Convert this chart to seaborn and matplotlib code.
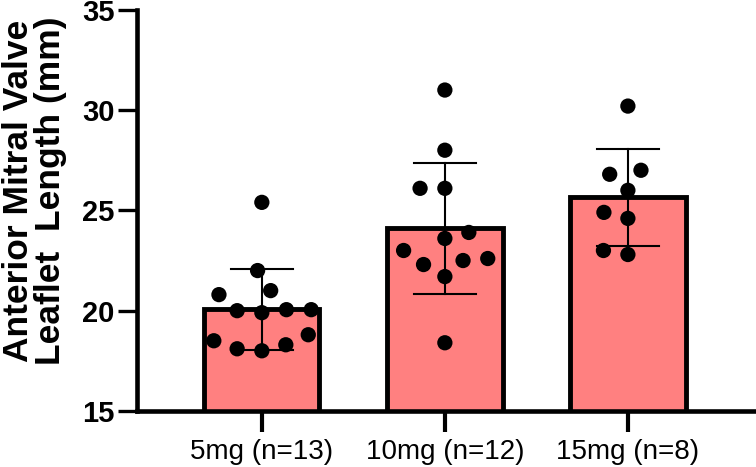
import pandas as pd
import matplotlib.pyplot as plt
import seaborn as sns

# values (mm)
groups = ["5mg (n=13)", "10mg (n=12)", "15mg (n=8)"]
dose_5mg = [25.4, 22.0, 20.8, 21.0, 19.9, 20.0, 20.05, 20.05, 18.8, 18.3, 18.5, 18.1, 18.0]
dose_10mg = [31.0, 28.0, 26.1, 26.1, 23.9, 23.0, 23.6, 22.3, 22.6, 21.7, 22.5, 18.4]
dose_15mg = [30.2, 27.0, 26.8, 26.0, 24.6, 24.9, 22.8, 23.0]
y_ticks = [15, 20, 25, 30, 35]

data = pd.DataFrame({
    "group": [groups[0]] * len(dose_5mg) + [groups[1]] * len(dose_10mg) + [groups[2]] * len(dose_15mg),
    "length": dose_5mg + dose_10mg + dose_15mg,
})

plt.rcParams["font.family"] = ["Liberation Sans", "DejaVu Sans"]

fig = plt.figure(figsize=(7.56, 4.67), dpi=100)
ax = fig.add_axes([0.181, 0.12, 0.819, 0.859])

sns.barplot(data=data, x="group", y="length", order=groups, errorbar="sd",
            width=0.63, color="#FF8080", saturation=1, edgecolor="black",
            linewidth=3.5, capsize=0.34, err_kws={"color": "black", "linewidth": 1.5},
            ax=ax)
# invisible edge widens the swarm spacing, like the prism scatter
sns.swarmplot(data=data, x="group", y="length", order=groups, color="black",
              size=11, edgecolor="none", linewidth=6, zorder=3, ax=ax)

ax.set_ylim(15, 35)
ax.set_xlim(-0.683, 2.70)
ax.set_yticks(y_ticks)
ax.set_xlabel("")
ax.set_ylabel("Anterior Mitral Valve\nLeaflet  Length (mm)", fontsize=25.5,
              fontweight="bold", linespacing=0.95, color="black")
ax.yaxis.set_label_coords(-0.113, 0.549)

sns.despine(ax=ax)
for side in ["left", "bottom"]:
    ax.spines[side].set_linewidth(3.3)
    ax.spines[side].set_color("black")
ax.tick_params(axis="y", length=14, width=2.4, labelsize=21, pad=2, colors="black")
ax.tick_params(axis="x", length=15, width=3.0, labelsize=20, pad=5, colors="black")
for lab in ax.get_yticklabels():
    lab.set_fontweight("bold")

fig.savefig("out.png", dpi=100)
